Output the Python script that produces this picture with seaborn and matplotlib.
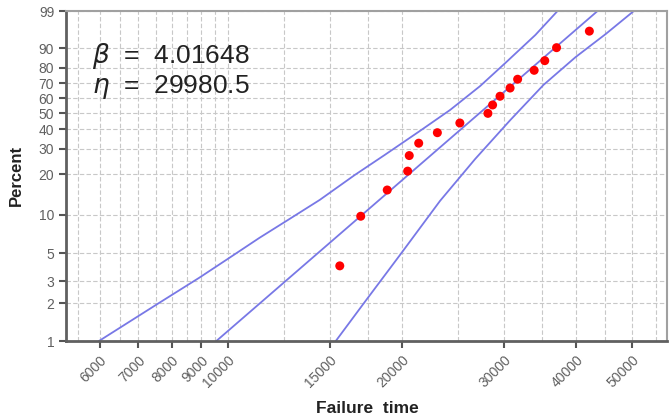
import numpy as np
import matplotlib
matplotlib.use("Agg")
import matplotlib.pyplot as plt
import seaborn as sns
from matplotlib.ticker import FixedLocator, FixedFormatter, NullFormatter

# failure data (median rank plotting positions)
fail_time = [15620, 16980, 18870, 20470, 20600, 21390, 23040, 25200, 28180,
             28710, 29570, 30780, 31720, 33880, 35340, 37040, 42210]
fail_pct = [3.98, 9.7, 15.3, 21.0, 27.0, 32.7, 38.2, 43.8, 49.8,
            55.3, 61.2, 66.8, 72.7, 78.4, 84.0, 90.3, 95.8]

# fitted weibull line
fit_time = [9550, 43600]
fit_pct = [1, 99]

# confidence bounds
lo_time = [5983, 7606, 8920, 10060, 11340, 12790, 14420, 16580, 18690,
           21500, 24240, 27330, 30200, 34050, 37180]
lo_pct = [1, 2.02, 3.20, 4.60, 6.60, 9.25, 12.9, 19.7, 27.3,
          39.2, 52.0, 68.2, 82.7, 94.8, 99]
hi_time = [15370, 17260, 19860, 23290, 26790, 30810, 35160, 39960, 45050, 50380]
hi_pct = [1, 2.06, 4.86, 12.7, 25.6, 45.6, 68.9, 85.9, 95.05, 99]

x_ticks = [6000, 7000, 8000, 9000, 10000, 15000, 20000, 30000, 40000, 50000]
x_minor = [5500, 6500, 7500, 8500, 9500, 12500, 17500, 25000, 35000, 45000, 55000]
y_ticks = [1, 2, 3, 5, 10, 20, 30, 40, 50, 60, 70, 80, 90, 99]

beta_txt = "4.01648"
eta_txt = "29980.5"

sns.set_style("white")
plt.rcParams['font.family'] = ['Liberation Sans', 'DejaVu Sans']
plt.rcParams['mathtext.fontset'] = 'dejavusans'


def wb(p):
    p = np.clip(np.asarray(p, dtype=float), 1e-6, 100 - 1e-6) / 100.0
    return np.log(-np.log(1 - p))


def wb_inv(w):
    return 100.0 * (1 - np.exp(-np.exp(np.asarray(w, dtype=float))))


fig = plt.figure(figsize=(6.71, 4.18), dpi=100)
ax = fig.add_axes([0.0984, 0.184, 0.8956, 0.7896])
ax.set_xscale('log')
ax.set_yscale('function', functions=(wb, wb_inv))

line_col = '#7878e6'
sns.lineplot(x=lo_time, y=lo_pct, sort=False, estimator=None, color=line_col, lw=1.3, ax=ax)
sns.lineplot(x=fit_time, y=fit_pct, sort=False, estimator=None, color=line_col, lw=1.3, ax=ax)
sns.lineplot(x=hi_time, y=hi_pct, sort=False, estimator=None, color=line_col, lw=1.3, ax=ax)
sns.scatterplot(x=fail_time, y=fail_pct, color='red', s=42, edgecolor='none', zorder=5, ax=ax)

ax.set_xlim(5250, 57500)
ax.set_ylim(1, 99)

ax.xaxis.set_major_locator(FixedLocator(x_ticks))
ax.xaxis.set_major_formatter(FixedFormatter([str(t) for t in x_ticks]))
ax.xaxis.set_minor_locator(FixedLocator(x_minor))
ax.xaxis.set_minor_formatter(NullFormatter())
ax.yaxis.set_major_locator(FixedLocator(y_ticks))
ax.yaxis.set_major_formatter(FixedFormatter([str(t) for t in y_ticks]))
ax.yaxis.set_minor_locator(FixedLocator([]))

ax.tick_params(axis='both', which='major', bottom=True, left=True, direction='out',
               length=5, width=1.5, color='#555555', labelcolor='#606060', labelsize=10)
ax.tick_params(axis='x', which='minor', bottom=True, length=0)
plt.setp(ax.get_xticklabels(), rotation=45, ha='right', rotation_mode='anchor')

grid_kw = dict(color='#c8c8c8', linestyle=(0, (4, 2)), linewidth=0.8)
ax.grid(True, which='both', axis='x', **grid_kw)
ax.grid(True, which='major', axis='y', **grid_kw)
ax.set_axisbelow(True)

for s in ['left', 'bottom']:
    ax.spines[s].set_color('#606060')
    ax.spines[s].set_linewidth(2)
for s in ['top', 'right']:
    ax.spines[s].set_color('#a0a0a0')
    ax.spines[s].set_linewidth(1.5)

ax.set_xlabel('')
ax.set_ylabel('')
fig.text(0.024, 0.581, 'Percent', rotation=90, fontweight='bold', fontsize=12,
         ha='center', va='center', color='#222222')
fig.text(0.547, 0.022, 'Failure  time', fontweight='bold', fontsize=12.5,
         ha='center', va='center', color='#222222')

fig.text(0.137, 0.866, r'$\beta$  =  ' + beta_txt, fontsize=19, va='center', color='#222222')
fig.text(0.137, 0.792, r'$\eta$  =  ' + eta_txt, fontsize=19, va='center', color='#222222')

fig.savefig('out.png', dpi=100)
